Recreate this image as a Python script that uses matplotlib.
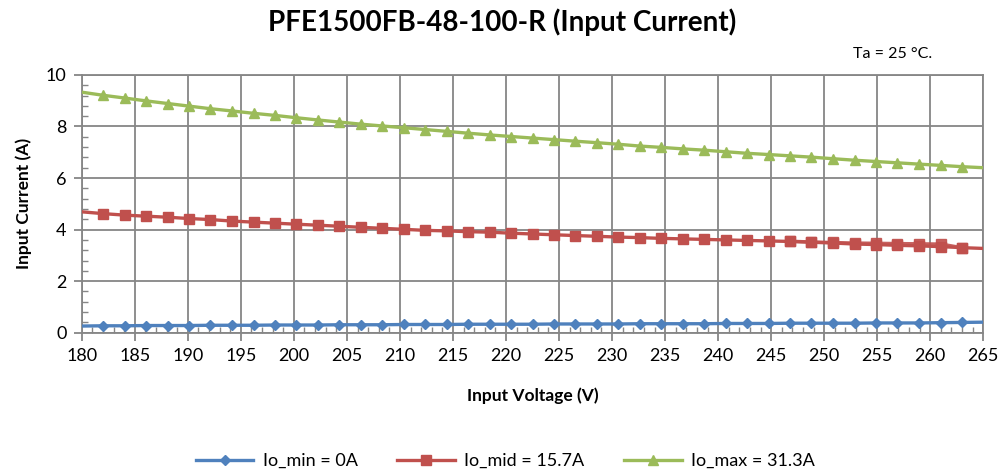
import matplotlib
matplotlib.use("Agg")
import matplotlib.pyplot as plt
from matplotlib.ticker import MultipleLocator

plt.rcParams['font.family'] = ['Lato', 'DejaVu Sans']

# input voltage (V), evenly stepped sweep from 180 to 265
volts = [180.0, 182.0, 184.1, 186.1, 188.1, 190.1, 192.1, 194.2, 196.2, 198.2,
         200.2, 202.3, 204.3, 206.3, 208.3, 210.4, 212.4, 214.4, 216.4, 218.5,
         220.5, 222.5, 224.5, 226.5, 228.6, 230.6, 232.6, 234.6, 236.7, 238.7,
         240.7, 242.7, 244.8, 246.8, 248.8, 250.8, 252.9, 254.9, 256.9, 258.9,
         261.0, 263.0, 265.0]

io_min = [0.26, 0.27, 0.27, 0.28, 0.28, 0.28, 0.29, 0.29, 0.29, 0.30,
          0.30, 0.30, 0.31, 0.31, 0.31, 0.32, 0.32, 0.32, 0.33, 0.33,
          0.33, 0.33, 0.34, 0.34, 0.34, 0.34, 0.35, 0.35, 0.35, 0.35,
          0.36, 0.36, 0.36, 0.37, 0.37, 0.37, 0.37, 0.38, 0.38, 0.38,
          0.39, 0.40, 0.41]

io_mid = [4.69, 4.62, 4.56, 4.52, 4.48, 4.43, 4.39, 4.33, 4.29, 4.25,
          4.21, 4.17, 4.13, 4.09, 4.05, 4.01, 3.97, 3.95, 3.92, 3.90,
          3.86, 3.83, 3.80, 3.77, 3.74, 3.71, 3.69, 3.66, 3.64, 3.62,
          3.60, 3.58, 3.56, 3.54, 3.51, 3.48, 3.44, 3.42, 3.39, 3.37,
          3.34, 3.30, 3.27]

# second (overlapping) pass of the mid-load curve near the high end
volts_mid2 = [246.8, 248.8, 250.8, 252.9, 254.9, 256.9, 258.9, 261.0, 263.0]
io_mid2 = [3.55, 3.52, 3.50, 3.48, 3.47, 3.46, 3.45, 3.44, 3.30]

io_max = [9.33, 9.21, 9.10, 8.99, 8.89, 8.79, 8.69, 8.60, 8.51, 8.43,
          8.34, 8.25, 8.17, 8.09, 8.02, 7.95, 7.88, 7.81, 7.74, 7.67,
          7.61, 7.55, 7.49, 7.43, 7.37, 7.31, 7.24, 7.19, 7.13, 7.08,
          7.02, 6.96, 6.91, 6.86, 6.81, 6.75, 6.69, 6.64, 6.59, 6.54,
          6.49, 6.44, 6.40]

labels = ['Io_min = 0A', 'Io_mid = 15.7A', 'Io_max = 31.3A']
colors = ['#4F81BD', '#C0504D', '#9BBB59']
grid_c = '#868686'

fig = plt.figure(figsize=(10.04, 4.74), dpi=100)
ax = fig.add_axes([0.0814, 0.298, 0.898, 0.544])

inner = list(range(1, len(volts) - 1))
ax.plot(volts, io_min, color=colors[0], lw=2.4, marker='D', ms=5,
        markevery=inner, label=labels[0], zorder=5)
ax.plot(volts_mid2, io_mid2, color=colors[1], lw=2.4, marker='s', ms=6.5,
        alpha=0.9, label='_nolegend_', zorder=4)
ax.plot(volts, io_mid, color=colors[1], lw=2.4, marker='s', ms=6.5,
        markevery=inner, label=labels[1], zorder=5)
ax.plot(volts, io_max, color=colors[2], lw=2.4, marker='^', ms=6.5,
        markevery=inner, label=labels[2], zorder=5)

ax.set_xlim(180, 265)
ax.set_ylim(0, 10)
ax.xaxis.set_major_locator(MultipleLocator(5))
ax.xaxis.set_minor_locator(MultipleLocator(1))
ax.yaxis.set_major_locator(MultipleLocator(2))
ax.yaxis.set_minor_locator(MultipleLocator(0.4))
ax.grid(True, which='major', color=grid_c, lw=1.3)
ax.set_axisbelow(True)
for s in ax.spines.values():
    s.set_color(grid_c)
    s.set_linewidth(1.3)

ax.tick_params(which='major', direction='out', length=6, width=1.3,
               color=grid_c, labelsize=13, pad=5)
ax.tick_params(which='minor', direction='in', length=4, width=1.0,
               color=grid_c)

ax.set_xlabel('Input Voltage (V)', fontsize=12.5, fontweight='bold', labelpad=17)
ax.set_ylabel('Input Current (A)', fontsize=12.5, fontweight='bold', labelpad=10)

fig.text(0.5, 0.953, 'PFE1500FB-48-100-R (Input Current)', ha='center',
         va='center', fontsize=20, fontweight='bold')
fig.text(0.889, 0.887, 'Ta = 25 °C.', ha='center', va='center', fontsize=11.5)

ax.legend(loc='center', bbox_to_anchor=(0.503, 0.027), bbox_transform=fig.transFigure,
          ncol=3, frameon=False, fontsize=13, handlelength=3.2,
          columnspacing=2.2, handletextpad=0.5)

fig.savefig('out.png', dpi=100)
